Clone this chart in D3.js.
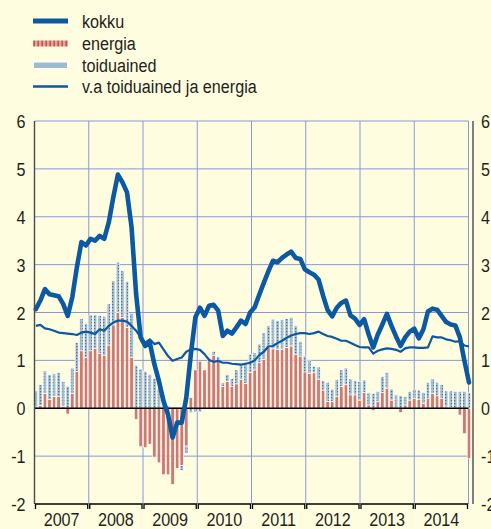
<!DOCTYPE html>
<html>
<head>
<meta charset="utf-8">
<script src="https://cdn.jsdelivr.net/npm/d3@7"></script>
<style>
  html, body { margin: 0; padding: 0; background: #fffde0; }
  svg { display: block; }
  text { font-family: "Liberation Sans", Arial, sans-serif; fill: #231f20; }
</style>
</head>
<body>
<div id="chart"></div>
<script>
// ---- data (monthly, 2007-2014, % points) ----
const years = [2007, 2008, 2009, 2010, 2011, 2012, 2013, 2014];
const yTicks = [-2, -1, 0, 1, 2, 3, 4, 5, 6];
const seriesNames = ["kokku", "energia", "toiduained", "v.a toiduained ja energia"];

const kokku = [
  2.07, 2.25, 2.49, 2.38, 2.36, 2.34, 2.18, 1.93, 2.32, 2.94, 3.47, 3.40,
  3.54, 3.50, 3.60, 3.54, 3.88, 4.41, 4.88, 4.72, 4.51, 3.78, 2.38, 1.48,
  1.30, 1.37, 0.92, 0.57, 0.15, -0.13, -0.61, -0.30, -0.30, 0.22, 1.13, 1.90,
  2.10, 1.93, 2.14, 2.16, 2.04, 1.51, 1.62, 1.56, 1.69, 1.83, 1.76, 2.00,
  2.11, 2.37, 2.62, 2.86, 3.08, 3.05, 3.14, 3.21, 3.27, 3.14, 3.12, 2.90,
  2.84, 2.79, 2.69, 2.35, 2.05, 1.92, 2.10, 2.20, 2.25, 1.94, 1.87, 1.74,
  1.86, 1.54, 1.27, 1.54, 1.75, 1.97, 1.72, 1.50, 1.30, 1.48, 1.60, 1.66,
  1.46, 1.65, 2.02, 2.08, 2.06, 1.93, 1.80, 1.75, 1.73, 1.48, 0.99, 0.54
];

const energia = [
  0.03, 0.06, 0.31, 0.18, 0.25, 0.25, 0.04, -0.12, 0.31, 0.77, 1.20, 1.06,
  1.20, 1.25, 1.15, 1.10, 1.32, 1.74, 2.00, 1.90, 1.69, 1.06, -0.23, -0.80,
  -0.82, -0.75, -1.02, -1.14, -1.39, -1.39, -1.59, -1.26, -1.20, -0.79, 0.22, 0.80,
  0.98, 0.80, 1.05, 1.10, 0.98, 0.45, 0.56, 0.45, 0.51, 0.60, 0.52, 0.75,
  0.80, 0.95, 1.02, 1.27, 1.24, 1.23, 1.23, 1.27, 1.30, 1.13, 1.09, 0.76,
  0.73, 0.74, 0.60, 0.38, 0.14, 0.14, 0.25, 0.45, 0.49, 0.28, 0.28, 0.17,
  0.33, 0.07, -0.05, 0.14, 0.33, 0.42, 0.17, 0.00, -0.09, 0.07, 0.17, 0.21,
  0.19, 0.10, 0.21, 0.31, 0.26, 0.21, 0.03, 0.02, 0.00, -0.14, -0.53, -1.05
];

const toiduained = [
  0.33, 0.43, 0.47, 0.52, 0.47, 0.49, 0.52, 0.46, 0.53, 0.60, 0.67, 0.71,
  0.75, 0.70, 0.79, 0.82, 0.86, 0.92, 1.05, 0.97, 0.96, 0.92, 0.90, 0.82,
  0.77, 0.71, 0.62, 0.41, 0.22, 0.05, 0.00, -0.02, -0.10, -0.15, -0.09, -0.08,
  -0.08, 0.00, 0.02, 0.09, 0.10, 0.08, 0.14, 0.17, 0.29, 0.31, 0.43, 0.38,
  0.36, 0.39, 0.56, 0.45, 0.62, 0.60, 0.62, 0.60, 0.60, 0.59, 0.30, 0.33,
  0.26, 0.14, 0.26, 0.20, 0.40, 0.26, 0.35, 0.35, 0.35, 0.33, 0.30, 0.39,
  0.26, 0.25, 0.31, 0.21, 0.33, 0.33, 0.23, 0.28, 0.26, 0.17, 0.18, 0.19,
  0.19, 0.23, 0.33, 0.30, 0.28, 0.28, 0.33, 0.34, 0.35, 0.35, 0.35, 0.33
];

const vaToiduainedJaEnergia = [
  1.72, 1.74, 1.67, 1.65, 1.62, 1.58, 1.57, 1.56, 1.55, 1.53, 1.58, 1.60,
  1.58, 1.55, 1.65, 1.62, 1.72, 1.79, 1.83, 1.83, 1.81, 1.72, 1.62, 1.48,
  1.37, 1.44, 1.34, 1.37, 1.23, 1.09, 0.99, 1.03, 1.06, 1.18, 1.23, 1.24,
  1.22, 1.13, 1.01, 0.97, 0.99, 0.95, 0.95, 0.93, 0.92, 0.91, 0.93, 0.95,
  1.00, 1.11, 1.18, 1.29, 1.30, 1.36, 1.41, 1.47, 1.52, 1.55, 1.57, 1.57,
  1.55, 1.57, 1.60, 1.55, 1.51, 1.49, 1.45, 1.41, 1.41, 1.37, 1.32, 1.28,
  1.27, 1.27, 1.14, 1.20, 1.23, 1.25, 1.24, 1.22, 1.18, 1.25, 1.27, 1.27,
  1.26, 1.26, 1.27, 1.50, 1.48, 1.48, 1.44, 1.42, 1.39, 1.40, 1.31, 1.29
];

// month keys, one per value
const months = years.flatMap(yr => d3.range(1, 13).map(m => `${yr}-${m}`));

// ---- chart ----
const width = 491, height = 529;
const blue = "#0b58a3";
const gridColor = "#8a98d6";
const energiaColor = "#cd7b6e";

const svg = d3.select("#chart").append("svg")
    .attr("width", width)
    .attr("height", height);

const defs = svg.append("defs");

// dotted fill for toiduained
const dots = defs.append("pattern")
    .attr("id", "dots").attr("patternUnits", "userSpaceOnUse")
    .attr("width", 3).attr("height", 3);
dots.append("rect").attr("width", 3).attr("height", 3).attr("fill", "#a6c0d1");
dots.append("rect").attr("x", 1).attr("y", 1).attr("width", 1.3).attr("height", 1.3).attr("fill", "#4c7290");

// striped fill for the energia legend key
const stripes = defs.append("pattern")
    .attr("id", "stripes").attr("patternUnits", "userSpaceOnUse")
    .attr("width", 4).attr("height", 4);
stripes.append("rect").attr("width", 4).attr("height", 4).attr("fill", "#e2a79c");
stripes.append("rect").attr("x", 1.5).attr("width", 1.3).attr("height", 4).attr("fill", "#b8453b");

// scales
const y = d3.scaleLinear().domain([-2, 6]).range([504, 121]);
const yearX = d3.scaleLinear().domain([2007, 2015]).range([34.5, 468.5]);
const x = d3.scalePoint().domain(months).range([35.8, 469]);
const barWidth = x.step() * 0.75;

// condensed look for every label
const squeeze = (px, py) => `translate(${px},${py}) scale(0.85,1)`;

// grid
const grid = svg.append("g");
grid.selectAll("line.h")
    .data(yTicks.filter(t => t > -2))
    .join("line")
    .attr("class", "h")
    .attr("x1", yearX(2007)).attr("x2", yearX(2015))
    .attr("y1", d => y(d)).attr("y2", d => y(d))
    .attr("stroke", gridColor).attr("stroke-width", 1);

grid.selectAll("line.v")
    .data(years.slice(1).concat(2015))
    .join("line")
    .attr("class", "v")
    .attr("x1", d => yearX(d)).attr("x2", d => yearX(d))
    .attr("y1", y(6)).attr("y2", y(-2))
    .attr("stroke", gridColor).attr("stroke-width", 1);

// stacked bars (negative parts stack downward)
const rows = months.map((m, i) => ({ month: m, energia: energia[i], toiduained: toiduained[i] }));
const stacked = d3.stack()
    .keys(["energia", "toiduained"])
    .offset(d3.stackOffsetDiverging)(rows);

const fills = { energia: energiaColor, toiduained: "url(#dots)" };

svg.append("g").selectAll("g")
    .data(stacked)
    .join("g")
    .attr("fill", d => fills[d.key])
    .selectAll("rect")
    .data(d => d)
    .join("rect")
    .attr("x", d => x(d.data.month) - barWidth / 2)
    .attr("width", barWidth)
    .attr("y", d => y(Math.max(d[0], d[1])))
    .attr("height", d => Math.abs(y(d[0]) - y(d[1])))
    .attr("stroke", "#ffffff")
    .attr("stroke-width", 0.6);

// zero line
svg.append("line")
    .attr("x1", yearX(2007)).attr("x2", yearX(2015))
    .attr("y1", y(0)).attr("y2", y(0))
    .attr("stroke", "#000").attr("stroke-width", 1.4);

// lines
const line = d3.line()
    .x((d, i) => x(months[i]))
    .y(d => y(d));

svg.append("path")
    .datum(vaToiduainedJaEnergia)
    .attr("d", line)
    .attr("fill", "none")
    .attr("stroke", blue)
    .attr("stroke-width", 2.2)
    .attr("stroke-linejoin", "round");

svg.append("path")
    .datum(kokku)
    .attr("d", line)
    .attr("fill", "none")
    .attr("stroke", blue)
    .attr("stroke-width", 4.6)
    .attr("stroke-linejoin", "round")
    .attr("stroke-linecap", "round");

// left and right axis lines
svg.append("g").selectAll("line")
    .data([yearX(2007), 473])
    .join("line")
    .attr("x1", d => d).attr("x2", d => d)
    .attr("y1", y(6)).attr("y2", y(-2))
    .attr("stroke", "#4a4a4a").attr("stroke-width", 1.4);

// bottom year brackets
svg.append("g").selectAll("path")
    .data(years)
    .join("path")
    .attr("d", d => `M${yearX(d) + 1},${y(-2) + 5}V${y(-2)}H${yearX(d + 1) - 1}V${y(-2) + 5}`)
    .attr("fill", "none")
    .attr("stroke", "#000")
    .attr("stroke-width", 1.3);

// year labels
svg.append("g").selectAll("text")
    .data(years)
    .join("text")
    .attr("transform", d => squeeze(yearX(d + 0.5), 525.5))
    .attr("text-anchor", "middle")
    .attr("font-size", 19)
    .text(d => d);

// y tick labels, both sides
svg.append("g").selectAll("text")
    .data(yTicks)
    .join("text")
    .attr("transform", d => squeeze(25.5, y(d) + 7))
    .attr("text-anchor", "end")
    .attr("font-size", 19)
    .text(d => d);

svg.append("g").selectAll("text")
    .data(yTicks)
    .join("text")
    .attr("transform", d => squeeze(481, y(d) + 7))
    .attr("text-anchor", "start")
    .attr("font-size", 19)
    .text(d => d);

// legend
const legend = svg.append("g");
const rowY = [21, 43.5, 65, 86.5];

legend.append("line")
    .attr("x1", 33).attr("x2", 68).attr("y1", rowY[0]).attr("y2", rowY[0])
    .attr("stroke", blue).attr("stroke-width", 5);
legend.append("rect")
    .attr("x", 33).attr("y", rowY[1] - 3).attr("width", 35).attr("height", 6)
    .attr("fill", "url(#stripes)");
legend.append("rect")
    .attr("x", 33.5).attr("y", rowY[2] - 3).attr("width", 34).attr("height", 6.5)
    .attr("fill", "#9fbccd").attr("stroke", "#ffffff").attr("stroke-width", 1);
legend.append("line")
    .attr("x1", 33).attr("x2", 68).attr("y1", rowY[3]).attr("y2", rowY[3])
    .attr("stroke", blue).attr("stroke-width", 2.6);

legend.selectAll("text")
    .data(seriesNames)
    .join("text")
    .attr("transform", (d, i) => squeeze(82, rowY[i] + 6.5))
    .attr("font-size", 19)
    .text(d => d);
</script>
</body>
</html>
